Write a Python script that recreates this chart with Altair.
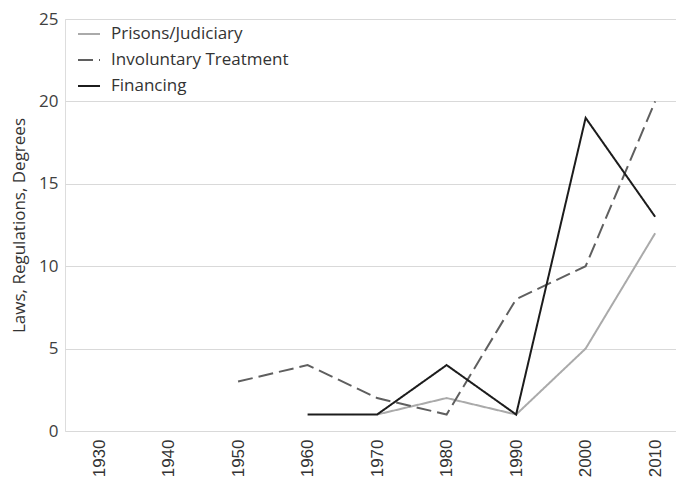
import altair as alt
import pandas as pd

decades = [1930, 1940, 1950, 1960, 1970, 1980, 1990, 2000, 2010]
series_names = ["Prisons/Judiciary", "Involuntary Treatment", "Financing"]
prisons = [None, None, None, None, 1, 2, 1, 5, 12]
involuntary = [None, None, 3, 4, 2, 1, 8, 10, 20]
financing = [None, None, None, 1, 1, 4, 1, 19, 13]

rows = []
for name, vals in zip(series_names, [prisons, involuntary, financing]):
    for d, v in zip(decades, vals):
        if v is not None:
            rows.append({"decade": d, "series": name, "value": v})
df = pd.DataFrame(rows)

leg = dict(title=None, orient="none", legendX=12, legendY=3,
           labelFont="Open Sans", labelFontSize=17, labelColor="#333333",
           symbolType="stroke", symbolSize=484, symbolStrokeWidth=2,
           rowPadding=6, labelOffset=10, labelLimit=0)

chart = alt.Chart(df).mark_line(strokeWidth=2).encode(
    x=alt.X("decade:Q", scale=alt.Scale(domain=[1925.1, 2013.0], nice=False, zero=False),
            axis=alt.Axis(title=None, values=decades, format="d", labelAngle=-90,
                          labelFont="Liberation Sans", labelFontSize=17, labelColor="#333333",
                          ticks=False, domain=False, grid=False, labelPadding=8,
                          labelBaseline="middle", labelAlign="right", labelFlush=False,
                          labelOverlap=False)),
    y=alt.Y("value:Q", scale=alt.Scale(domain=[0, 25]),
            axis=alt.Axis(title="Laws, Regulations, Degrees", values=[0, 5, 10, 15, 20, 25],
                          titleFont="Open Sans", titleFontSize=17, titleFontWeight="normal",
                          titleColor="#333333", labelFont="Open Sans", labelFontSize=17,
                          labelColor="#404040", ticks=False, domain=False, gridColor="#d9d9d9",
                          labelPadding=7, titlePadding=10)),
    color=alt.Color("series:N", sort=series_names,
                    scale=alt.Scale(domain=series_names, range=["#aaaaaa", "#5f5f5f", "#1c1c1c"]),
                    legend=alt.Legend(**leg)),
    strokeDash=alt.StrokeDash("series:N", sort=series_names,
                              scale=alt.Scale(domain=series_names, range=[[1, 0], [15, 6], [1, 0]]),
                              legend=alt.Legend(**leg)),
    order=alt.Order("decade:Q"),
).properties(width=611, height=412,
             autosize=alt.AutoSizeParams(type="none"),
             padding={"left": 57, "top": 11, "right": 0, "bottom": 46}
).configure_view(stroke=None).configure(background="white")

chart.save("out.html", embed_options={"renderer": "svg", "actions": False})
